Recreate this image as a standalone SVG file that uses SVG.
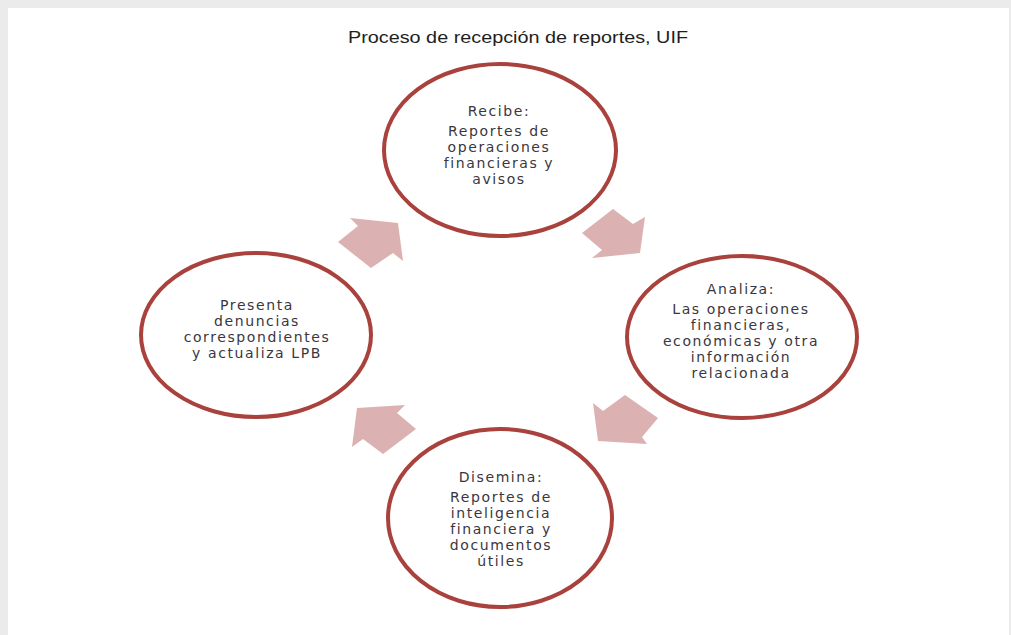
<svg xmlns="http://www.w3.org/2000/svg" width="1011" height="635" viewBox="0 0 1011 635">
  <style>
    .node { fill: #ffffff; stroke: #a9413d; stroke-width: 4; }
    .lbl { font-family: "DejaVu Sans", "Noto Sans", sans-serif; font-size: 14px; letter-spacing: 1.6px; fill: #3a3640; text-anchor: middle; }
    .title { font-family: "Liberation Sans", Arial, sans-serif; font-size: 16px; fill: #1e1e1e; text-anchor: middle; }
    .arrow { fill: #dbb1b1; stroke: none; }
  </style>
  <rect x="0" y="0" width="1011" height="635" fill="#ebebeb"/>
  <rect x="8" y="8" width="1001" height="627" fill="#ffffff"/>
  <text class="title" x="518" y="43" textLength="340" lengthAdjust="spacingAndGlyphs">Proceso de recepción de reportes, UIF</text>

  <g id="connectors">
    <polygon class="arrow" points="350,218 398,223 403,261 393,253 371,268 338,242 358,226"/>
    <polygon class="arrow" points="613,209 633,224 645,217 640,253 592,258 602,250 582,233"/>
    <polygon class="arrow" points="625,395 658,418 642,437 647,444 598,441 593,403 603,411"/>
    <polygon class="arrow" points="357,408 405,405 397,413 416,429 383,454 363,439 352,447"/>
  </g>

  <g id="node-recibe">
    <ellipse class="node" cx="500" cy="150" rx="116" ry="86"/>
    <text class="lbl" x="499" y="116">Recibe:</text>
    <text class="lbl" x="499" y="136">Reportes de</text>
    <text class="lbl" x="499" y="152">operaciones</text>
    <text class="lbl" x="499" y="168">financieras y</text>
    <text class="lbl" x="499" y="184">avisos</text>
  </g>

  <g id="node-analiza">
    <ellipse class="node" cx="742" cy="337" rx="115" ry="81"/>
    <text class="lbl" x="741" y="294">Analiza:</text>
    <text class="lbl" x="741" y="314">Las operaciones</text>
    <text class="lbl" x="741" y="330">financieras,</text>
    <text class="lbl" x="741" y="346">económicas y otra</text>
    <text class="lbl" x="741" y="362">información</text>
    <text class="lbl" x="741" y="378">relacionada</text>
  </g>

  <g id="node-presenta">
    <ellipse class="node" cx="256" cy="335" rx="115" ry="82"/>
    <text class="lbl" x="257" y="310">Presenta</text>
    <text class="lbl" x="257" y="326">denuncias</text>
    <text class="lbl" x="257" y="342">correspondientes</text>
    <text class="lbl" x="257" y="358">y actualiza LPB</text>
  </g>

  <g id="node-disemina">
    <ellipse class="node" cx="500" cy="518" rx="112" ry="89"/>
    <text class="lbl" x="501" y="482">Disemina:</text>
    <text class="lbl" x="501" y="502">Reportes de</text>
    <text class="lbl" x="501" y="518">inteligencia</text>
    <text class="lbl" x="501" y="534">financiera y</text>
    <text class="lbl" x="501" y="550">documentos</text>
    <text class="lbl" x="501" y="566">útiles</text>
  </g>
</svg>
